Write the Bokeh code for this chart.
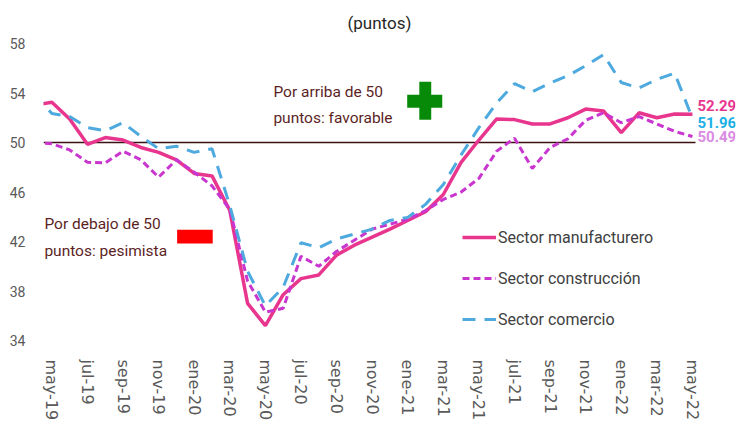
from bokeh.plotting import figure
from bokeh.models import (Range1d, FixedTicker, Label, BoxAnnotation,
                          Legend, LegendItem, Title)
from bokeh.embed import file_html
from bokeh.resources import INLINE

months = ["abr-19", "may-19", "jun-19", "jul-19", "ago-19", "sep-19", "oct-19", "nov-19", "dic-19",
          "ene-20", "feb-20", "mar-20", "abr-20", "may-20", "jun-20", "jul-20", "ago-20", "sep-20",
          "oct-20", "nov-20", "dic-20", "ene-21", "feb-21", "mar-21", "abr-21", "may-21", "jun-21",
          "jul-21", "ago-21", "sep-21", "oct-21", "nov-21", "dic-21", "ene-22", "feb-22", "mar-22",
          "abr-22", "may-22"]

manufacturero = [53.0, 53.25, 51.9, 49.85, 50.4, 50.2, 49.6, 49.2, 48.6, 47.5, 47.3, 44.5, 37.0,
                 35.2, 37.7, 39.0, 39.3, 40.9, 41.7, 42.35, 43.0, 43.7, 44.4, 45.8, 48.4, 50.2,
                 51.9, 51.85, 51.5, 51.5, 52.0, 52.7, 52.55, 50.8, 52.4, 52.0, 52.3, 52.29]

construccion = [50.0, 49.9, 49.4, 48.4, 48.35, 49.3, 48.6, 47.2, 48.6, 47.6, 46.5, 44.6, 38.8,
                36.3, 36.6, 40.8, 40.0, 41.2, 42.1, 43.0, 43.4, 43.8, 44.5, 45.4, 46.0, 47.1,
                49.3, 50.35, 47.9, 49.6, 50.3, 51.8, 52.4, 51.6, 52.1, 51.5, 50.9, 50.49]

comercio = [53.9, 52.35, 52.1, 51.2, 50.95, 51.6, 50.5, 49.5, 49.7, 49.2, 49.5, 44.9, 39.6,
            36.8, 38.3, 41.9, 41.5, 42.2, 42.6, 43.0, 43.7, 43.95, 45.0, 46.6, 49.0, 51.2,
            53.2, 54.75, 54.1, 54.8, 55.4, 56.2, 57.1, 54.85, 54.4, 55.1, 55.6, 51.96]

y_ticks = [34, 38, 42, 46, 50, 54, 58]
threshold = 50
series_names = ["Sector manufacturero", "Sector construcción", "Sector comercio"]
end_labels = ["52.29", "51.96", "50.49"]

x = list(range(len(months)))
tick_idx = list(range(1, len(months), 2))

# visible chart area (months) and extra room on the right for the end labels
X_LO, X_HI, X_PAD = 0.53, 37.17, 2.25

FONT = "Roboto"
C_MAN = "#E8368F"
C_CON = "#C935CF"
C_COM = "#4DA9DE"

p = figure(width=736, height=424, output_backend="svg", toolbar_location=None,
           x_range=Range1d(X_LO, X_HI + X_PAD), y_range=Range1d(34, 58),
           min_border_left=43, min_border_right=1, min_border_top=43, min_border_bottom=84)
p.outline_line_color = None
p.background_fill_color = "white"
p.border_fill_color = "white"
p.xgrid.visible = False
p.ygrid.visible = False

p.title = Title(text="(puntos)", align="left", offset=304, text_font=FONT, text_font_size="17px",
                text_font_style="normal", text_color="#262626", standoff=21)

# axes
p.yaxis.ticker = FixedTicker(ticks=y_ticks)
p.yaxis.axis_line_color = None
p.yaxis.major_tick_line_color = None
p.yaxis.minor_tick_line_color = None
p.yaxis.major_label_text_font = FONT
p.yaxis.major_label_text_font_size = "14px"
p.yaxis.major_label_text_color = "#595959"
p.yaxis.major_label_standoff = 12

p.xaxis.ticker = FixedTicker(ticks=tick_idx)
p.xaxis.major_label_overrides = {i: months[i] for i in tick_idx}
p.xaxis.major_label_orientation = "vertical"
p.xaxis.axis_line_color = None
p.xaxis.major_tick_line_color = None
p.xaxis.minor_tick_line_color = None
p.xaxis.major_label_text_font = "DejaVu Sans"
p.xaxis.major_label_text_font_size = "16px"
p.xaxis.major_label_text_color = "#595959"
p.xaxis.major_label_standoff = 13

# reference line at 50 across the chart area
p.line([X_LO, X_HI], [threshold, threshold], line_color="#3B1010", line_width=1.5)

r1 = p.line(x, manufacturero, line_color=C_MAN, line_width=3.5)
r2 = p.line(x, construccion, line_color=C_CON, line_width=3, line_dash="7 4")
r3 = p.line(x, comercio, line_color=C_COM, line_width=3, line_dash="13 9")

legend = Legend(items=[LegendItem(label=series_names[0], renderers=[r1]),
                       LegendItem(label=series_names[1], renderers=[r2]),
                       LegendItem(label=series_names[2], renderers=[r3])],
                location=(419, 11), orientation="vertical",
                glyph_width=34, glyph_height=20, label_height=20, spacing=21,
                padding=0, margin=0, label_standoff=2,
                label_text_font=FONT, label_text_font_size="16px", label_text_color="#404040",
                background_fill_alpha=0, border_line_color=None)
p.add_layout(legend)

# end-of-series value labels
last = len(months) - 1
for val_list, txt, col, yo in [(manufacturero, end_labels[0], C_MAN, 9),
                               (comercio, end_labels[1], "#1AAFE6", -4),
                               (construccion, end_labels[2], "#DA8BE3", 0)]:
    p.add_layout(Label(x=last, y=val_list[last], text=txt, x_offset=5, y_offset=yo,
                       text_font=FONT, text_font_size="15px", text_font_style="bold",
                       text_color=col, text_baseline="middle", text_align="left"))

# annotations
ann_color = "#5C1F1F"
p.add_layout(Label(x=13.45, y=53.05, text="Por arriba de 50\npuntos: favorable",
                   text_font=FONT, text_font_size="15.5px", text_color=ann_color,
                   text_baseline="middle", text_align="left", text_line_height=1.45))
p.add_layout(Label(x=0.58, y=42.32, text="Por debajo de 50\npuntos: pesimista",
                   text_font=FONT, text_font_size="15.5px", text_color=ann_color,
                   text_baseline="middle", text_align="left", text_line_height=1.45))

# green plus
p.add_layout(BoxAnnotation(left=20.97, right=22.94, bottom=52.8, top=53.85,
                           fill_color="#078A07", fill_alpha=1, line_color=None))
p.add_layout(BoxAnnotation(left=21.65, right=22.32, bottom=51.84, top=54.9,
                           fill_color="#078A07", fill_alpha=1, line_color=None))
# red minus
p.add_layout(BoxAnnotation(left=8.04, right=10.04, bottom=41.84, top=42.94,
                           fill_color="#FF0000", fill_alpha=1, line_color=None))

open("out.html", "w").write(file_html(p, INLINE))
